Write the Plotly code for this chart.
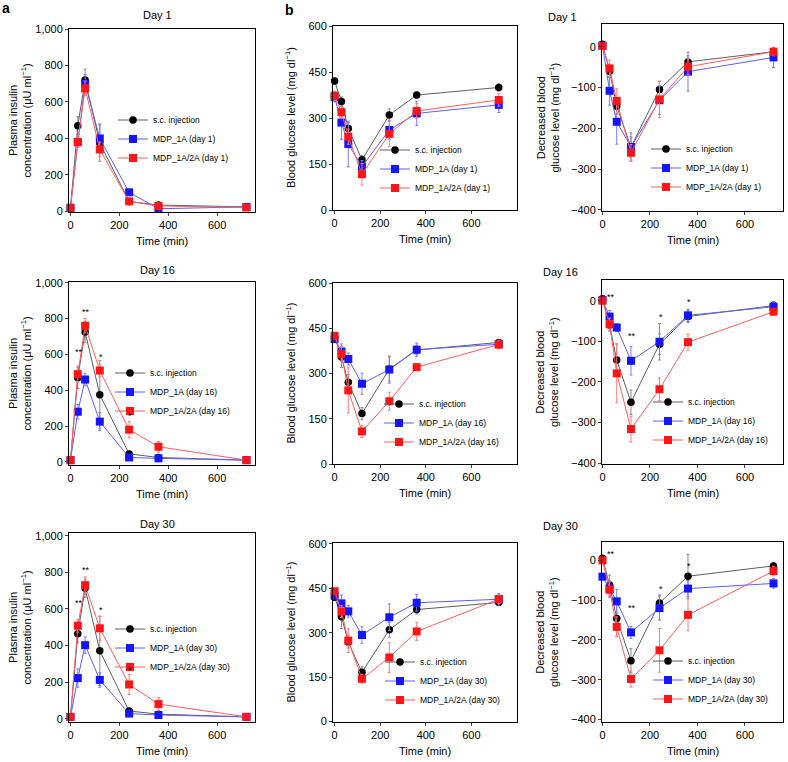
import plotly.graph_objects as go

# sampling times (min)
times = [0, 30, 60, 120, 240, 360, 720]

# ---- a: plasma insulin (uU/ml) ----
ins_d1_sc = [20, 470, 720, 375, 55, 35, 25]
ins_d1_sc_err = [5, 50, 60, 100, 10, 15, 5]
ins_d1_1a = [20, 380, 700, 400, 105, 15, 25]
ins_d1_1a_err = [5, 30, 50, 80, 15, 10, 5]
ins_d1_2a = [20, 380, 675, 340, 55, 30, 22]
ins_d1_2a_err = [5, 30, 40, 40, 10, 10, 5]

ins_d16_sc = [10, 470, 725, 375, 45, 25, 10]
ins_d16_sc_err = [5, 60, 60, 190, 15, 10, 5]
ins_d16_1a = [10, 280, 460, 225, 25, 20, 10]
ins_d16_1a_err = [5, 40, 35, 50, 10, 10, 5]
ins_d16_2a = [10, 490, 760, 510, 180, 85, 10]
ins_d16_2a_err = [5, 45, 40, 35, 45, 30, 5]

ins_d30_sc = [10, 464, 713, 371, 42, 25, 10]
ins_d30_sc_err = [5, 50, 50, 190, 15, 10, 5]
ins_d30_1a = [10, 222, 402, 212, 28, 20, 10]
ins_d30_1a_err = [5, 50, 45, 40, 15, 10, 5]
ins_d30_2a = [10, 508, 730, 494, 187, 80, 10]
ins_d30_2a_err = [5, 35, 45, 65, 55, 35, 5]

# ---- b: blood glucose (mg/dl) ----
glu_d1_sc = [422, 355, 267, 164, 311, 376, 401]
glu_d1_sc_err = [10, 15, 20, 15, 20, 10, 12]
glu_d1_1a = [369, 286, 216, 142, 262, 316, 344]
glu_d1_1a_err = [15, 55, 75, 20, 30, 40, 25]
glu_d1_2a = [374, 320, 240, 117, 249, 324, 360]
glu_d1_2a_err = [15, 20, 25, 35, 42, 25, 20]

glu_d16_sc = [421, 355, 271, 167, 315, 378, 403]
glu_d16_sc_err = [10, 35, 25, 20, 40, 15, 10]
glu_d16_1a = [414, 373, 348, 266, 313, 379, 397]
glu_d16_1a_err = [10, 25, 20, 35, 45, 22, 12]
glu_d16_2a = [425, 365, 244, 108, 208, 321, 396]
glu_d16_2a_err = [10, 25, 75, 20, 30, 10, 15]

glu_d30_sc = [420, 354, 268, 166, 310, 378, 402]
glu_d30_sc_err = [10, 40, 20, 20, 25, 15, 10]
glu_d30_1a = [425, 399, 372, 292, 352, 401, 413]
glu_d30_1a_err = [10, 28, 20, 28, 45, 28, 20]
glu_d30_2a = [440, 371, 273, 144, 216, 304, 413]
glu_d30_2a_err = [10, 20, 40, 15, 50, 30, 15]

# ---- b: decreased blood glucose (mg/dl) ----
dec_d1_sc = [6, -60, -146, -246, -105, -37, -12]
dec_d1_sc_err = [5, 15, 20, 25, 20, 15, 10]
dec_d1_1a = [3, -108, -184, -246, -131, -61, -26]
dec_d1_1a_err = [5, 35, 55, 35, 35, 48, 25]
dec_d1_2a = [2, -53, -133, -260, -129, -49, -12]
dec_d1_2a_err = [5, 20, 30, 20, 45, 20, 10]

dec_d16_sc = [5, -60, -146, -250, -107, -39, -12]
dec_d16_sc_err = [5, 15, 40, 30, 25, 15, 10]
dec_d16_1a = [2, -39, -66, -148, -101, -36, -15]
dec_d16_1a_err = [5, 15, 10, 35, 45, 15, 10]
dec_d16_2a = [0, -58, -179, -316, -218, -102, -27]
dec_d16_2a_err = [5, 15, 72, 32, 28, 20, 8]

dec_d30_sc = [5, -62, -146, -252, -107, -40, -14]
dec_d30_sc_err = [5, 25, 45, 30, 20, 55, 8]
dec_d30_1a = [-41, -71, -103, -181, -120, -71, -58]
dec_d30_1a_err = [5, 20, 30, 15, 30, 20, 12]
dec_d30_2a = [0, -74, -167, -298, -226, -137, -27]
dec_d30_2a_err = [5, 20, 25, 20, 55, 40, 12]

# significance marks (time, y, text)
stars_ins_d16 = [(35, 615, "**"), (65, 835, "**"), (125, 585, "*"), (245, 255, "*")]
stars_dec_d16 = [(35, 8, "**"), (125, -86, "**"), (245, -41, "*"), (365, -4, "*")]
stars_ins_d30 = [(35, 630, "**"), (65, 812, "**"), (125, 596, "*"), (245, 266, "*")]
stars_dec_d30 = [(35, 16, "**"), (125, -119, "**"), (245, -71, "*"), (365, -15, "*")]

W, H = 788, 762
FONT = "Arial, Liberation Sans, sans-serif"

# name, symbol, marker colour, line colour, error colour
styles = [
    ("s.c. injection", "circle", "#000000", "#5e5e5e", "#8a8a8a"),
    ("MDP_1A", "square", "#1515ff", "#5e5eff", "#7a7aff"),
    ("MDP_1A/2A", "square", "#ff1515", "#ff5e5e", "#ff7a7a"),
]

cols_px = [(69, 255), (333, 517), (602, 783)]
rows_px = [[(29, 212), (26, 210), (24, 211)],
           [(282, 465), (283, 464), (280, 464)],
           [(533, 722), (543, 722), (542, 722)]]
xranges = [[-6, 755], [-7, 800], [-2, 760]]
yranges = [[[-3, 1000], [0, 602], [-403, 56]],
           [[-17, 1004], [0, 600], [-402, 51]],
           [[-18, 1015], [-2, 603], [-406, 46]]]
ydticks = [200, 150, 100]

panels = [
    [(ins_d1_sc, ins_d1_sc_err, ins_d1_1a, ins_d1_1a_err, ins_d1_2a, ins_d1_2a_err), None],
    [(glu_d1_sc, glu_d1_sc_err, glu_d1_1a, glu_d1_1a_err, glu_d1_2a, glu_d1_2a_err), None],
    [(dec_d1_sc, dec_d1_sc_err, dec_d1_1a, dec_d1_1a_err, dec_d1_2a, dec_d1_2a_err), None],
    [(ins_d16_sc, ins_d16_sc_err, ins_d16_1a, ins_d16_1a_err, ins_d16_2a, ins_d16_2a_err), stars_ins_d16],
    [(glu_d16_sc, glu_d16_sc_err, glu_d16_1a, glu_d16_1a_err, glu_d16_2a, glu_d16_2a_err), None],
    [(dec_d16_sc, dec_d16_sc_err, dec_d16_1a, dec_d16_1a_err, dec_d16_2a, dec_d16_2a_err), stars_dec_d16],
    [(ins_d30_sc, ins_d30_sc_err, ins_d30_1a, ins_d30_1a_err, ins_d30_2a, ins_d30_2a_err), stars_ins_d30],
    [(glu_d30_sc, glu_d30_sc_err, glu_d30_1a, glu_d30_1a_err, glu_d30_2a, glu_d30_2a_err), None],
    [(dec_d30_sc, dec_d30_sc_err, dec_d30_1a, dec_d30_1a_err, dec_d30_2a, dec_d30_2a_err), stars_dec_d30],
]
days = [1, 16, 30]

# legend anchor: (text start x px, middle y px)
legend_pos = [[(157, 139), (419, 169), (690, 168)],
              [(154, 392), (423, 423), (692, 421)],
              [(154, 648), (424, 681), (692, 680)]]

fig = go.Figure()
layout = dict(width=W, height=H, margin=dict(l=0, r=0, t=0, b=0, autoexpand=False),
              paper_bgcolor="white", plot_bgcolor="white",
              font=dict(family=FONT, size=11, color="black"),
              showlegend=True)
annotations = []

def px_x(p):
    return p / W

def px_y(p):
    return 1 - p / H

def paper_text(xp, yp, text, size=11, xanchor="center", **kw):
    return dict(x=px_x(xp), y=px_y(yp), xref="paper", yref="paper", text=text,
                showarrow=False, xanchor=xanchor, yanchor="middle",
                font=dict(size=size), **kw)

for i, (data, stars) in enumerate(panels):
    r, c = divmod(i, 3)
    n = i + 1
    sfx = "" if n == 1 else str(n)
    x0, x1 = cols_px[c]
    y0, y1 = rows_px[r][c]
    layout["xaxis" + sfx] = dict(
        domain=[px_x(x0), px_x(x1)], anchor="y" + sfx, range=xranges[c],
        tickvals=[0, 200, 400, 600], ticks="outside", ticklen=3, tickwidth=1,
        showline=True, linecolor="black", linewidth=1, mirror=True,
        showgrid=False, zeroline=False, tickfont=dict(size=11))
    layout["yaxis" + sfx] = dict(
        domain=[px_y(y1), px_y(y0)], anchor="x" + sfx, range=yranges[r][c],
        dtick=ydticks[c], tick0=0, ticks="outside", ticklen=3, tickwidth=1,
        tickformat=",d", showline=True, linecolor="black", linewidth=1, mirror=True,
        showgrid=False, zeroline=False, tickfont=dict(size=11))
    leg = "legend" + sfx
    lx, ly = legend_pos[r][c]
    layout[leg] = dict(x=px_x(lx - 44), y=px_y(ly), xanchor="left", yanchor="middle",
                       bgcolor="rgba(0,0,0,0)", font=dict(size=8.5), itemwidth=30,
                       tracegroupgap=0)
    for k, (name, sym, mc, lc, ec) in enumerate(styles):
        yv = data[2 * k]
        ev = data[2 * k + 1]
        label = name if k == 0 else f"{name} (day {days[r]})"
        fig.add_trace(go.Scatter(
            x=times, y=yv, name=label, mode="lines+markers",
            xaxis="x" + sfx, yaxis="y" + sfx, legend=leg, cliponaxis=False,
            line=dict(color=lc, width=1),
            marker=dict(symbol=sym, size=7.5 if k == 0 else 8, color=mc),
            error_y=dict(type="data", array=ev, color=ec, thickness=1, width=1.5)))
    if stars:
        for tx, ty, s in stars:
            annotations.append(dict(x=tx, y=ty, xref="x" + sfx, yref="y" + sfx,
                                    text=s, showarrow=False, xanchor="center",
                                    yanchor="middle", font=dict(size=9)))
    # x axis title
    annotations.append(paper_text((x0 + x1) / 2, y1 + 29, "Time (min)"))

# y axis titles
ytitle_cfg = [
    (19, "Plasma insulin<br>concentration (μU ml<sup>−1</sup>)"),
    (290, "Blood glucose level (mg dl<sup>−1</sup>)"),
    (547, "Decreased blood<br>glucose level (mg dl<sup>−1</sup>)"),
]
for r in range(3):
    for c, (xp, txt) in enumerate(ytitle_cfg):
        y0, y1 = rows_px[r][c]
        annotations.append(paper_text(xp, (y0 + y1) / 2, txt, textangle=-90))

# day titles
day_y = [15, 270, 524]
day_x_right = [546, 541, 541]
for r, d in enumerate(days):
    annotations.append(paper_text(157, day_y[r], f"Day {d}"))
    annotations.append(paper_text(day_x_right[r], day_y[r] + 2, f"Day {d}", xanchor="left"))

# panel letters
annotations.append(paper_text(0, 8, "<b>a</b>", size=14, xanchor="left"))
annotations.append(paper_text(283, 10, "<b>b</b>", size=14, xanchor="left"))

layout["annotations"] = annotations
fig.update_layout(**layout)

# drop the default page margin so the 788x762 figure fills the window exactly
fig.write_html("out.html", config={"displayModeBar": False},
               post_script="document.body.style.margin='0';document.body.style.overflow='hidden';")
